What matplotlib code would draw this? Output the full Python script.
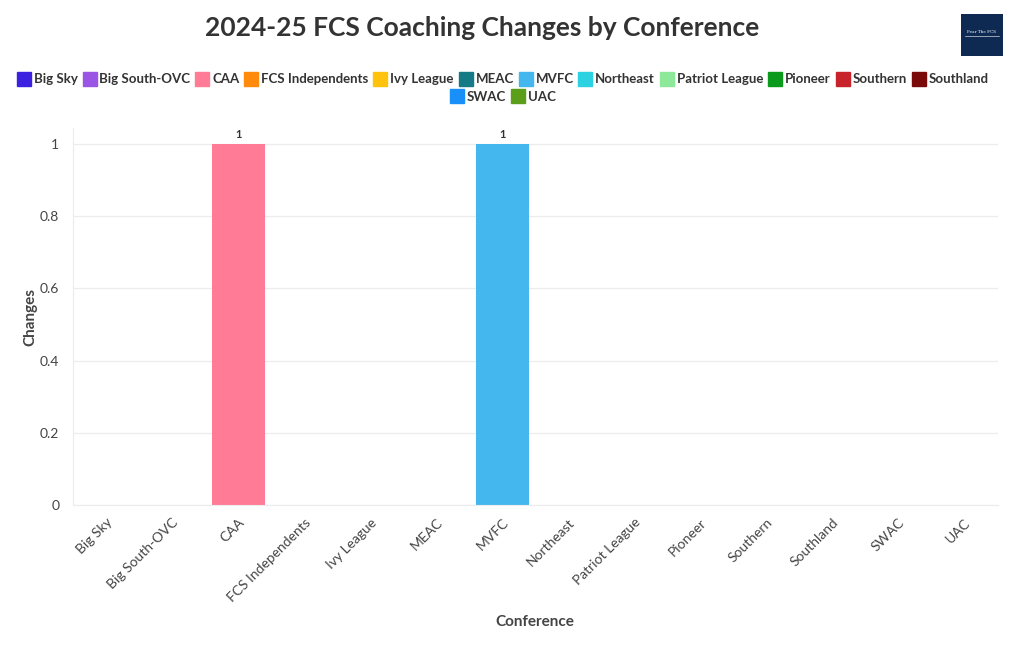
import matplotlib.pyplot as plt
from matplotlib.lines import Line2D
from matplotlib.patches import FancyBboxPatch

plt.rcParams['font.family'] = ['Lato', 'DejaVu Sans']

# data
conferences = ["Big Sky", "Big South-OVC", "CAA", "FCS Independents", "Ivy League",
               "MEAC", "MVFC", "Northeast", "Patriot League", "Pioneer",
               "Southern", "Southland", "SWAC", "UAC"]
changes = [0, 0, 1, 0, 0, 0, 1, 0, 0, 0, 0, 0, 0, 0]
colors = ["#3a22e0", "#9a55e4", "#ff7b96", "#ff8a0c", "#ffc30b", "#137a86",
          "#45b7ef", "#2cd2e2", "#8ee89a", "#0b9a1c", "#c8222a", "#7a0a0a",
          "#1890f8", "#5a9e1a"]

fig = plt.figure(figsize=(10.2, 6.5), dpi=100)
ax = fig.add_axes([0.0716, 0.223, 0.9064, 0.58])

x = range(len(conferences))
bars = ax.bar(x, changes, width=0.8, color=colors, zorder=2)
for i, v in enumerate(changes):
    if v > 0:
        ax.text(i, v + 0.01, str(v), ha='center', va='bottom',
                fontsize=8, fontweight='bold', color='#333333')

ax.set_xlim(-0.5, len(conferences) - 0.5)
ax.set_ylim(0, 1.044)
ax.set_yticks([0, 0.2, 0.4, 0.6, 0.8, 1])
ax.set_yticklabels(["0", "0.2", "0.4", "0.6", "0.8", "1"])
ax.set_xticks(list(x))
ax.set_xticklabels(conferences, rotation=45, ha='right', rotation_mode='anchor')
ax.tick_params(axis='both', length=0, labelsize=10, labelcolor='#444444')
ax.tick_params(axis='x', pad=8)
ax.tick_params(axis='y', pad=10)
ax.grid(axis='y', color='#ececec', linewidth=0.9, zorder=0)
for s in ['top', 'right']:
    ax.spines[s].set_visible(False)
ax.spines['left'].set_color('#ececec')
ax.spines['bottom'].set_color('#ececec')

ax.set_xlabel("Conference", fontsize=11, fontweight='bold', color='#444444', labelpad=8)
ax.set_ylabel("Changes", fontsize=11, fontweight='bold', color='#444444', labelpad=2)

fig.text(0.473, 0.957, "2024-25 FCS Coaching Changes by Conference", ha='center',
         va='center', fontsize=19, fontweight='bold', color='#333333')

# legend: 12 on first row, rest on second
def make_handles(idx):
    return [Line2D([], [], marker='s', linestyle='', markersize=10,
                   markerfacecolor=colors[i], markeredgecolor=colors[i]) for i in idx]

row1 = list(range(12))
row2 = list(range(12, len(conferences)))
leg_kw = dict(frameon=False, handlelength=0.7, handletextpad=0.4, columnspacing=0.55,
              prop={'weight': 'bold', 'size': 9.5})
leg1 = fig.legend(make_handles(row1), [conferences[i] for i in row1], ncol=12,
                  loc='center', bbox_to_anchor=(0.494, 0.878), **leg_kw)
leg2 = fig.legend(make_handles(row2), [conferences[i] for i in row2], ncol=2,
                  loc='center', bbox_to_anchor=(0.494, 0.851), **leg_kw)
for leg in (leg1, leg2):
    for t in leg.get_texts():
        t.set_color('#333333')

# logo box
logo = FancyBboxPatch((961 / 1020, 1 - 56 / 650), 42 / 1020, 42 / 650,
                      boxstyle='square,pad=0', transform=fig.transFigure,
                      facecolor='#0f2a52', edgecolor='none')
fig.patches.append(logo)
fig.text(982 / 1020, 1 - 32 / 650, "Fear The FCS", ha='center', va='center',
         fontsize=3, color='white', family='DejaVu Serif')
fig.lines.append(Line2D([965 / 1020, 999 / 1020], [1 - 36 / 650, 1 - 36 / 650],
                        transform=fig.transFigure, color='white', linewidth=0.4))

fig.savefig("out.png", dpi=100)
